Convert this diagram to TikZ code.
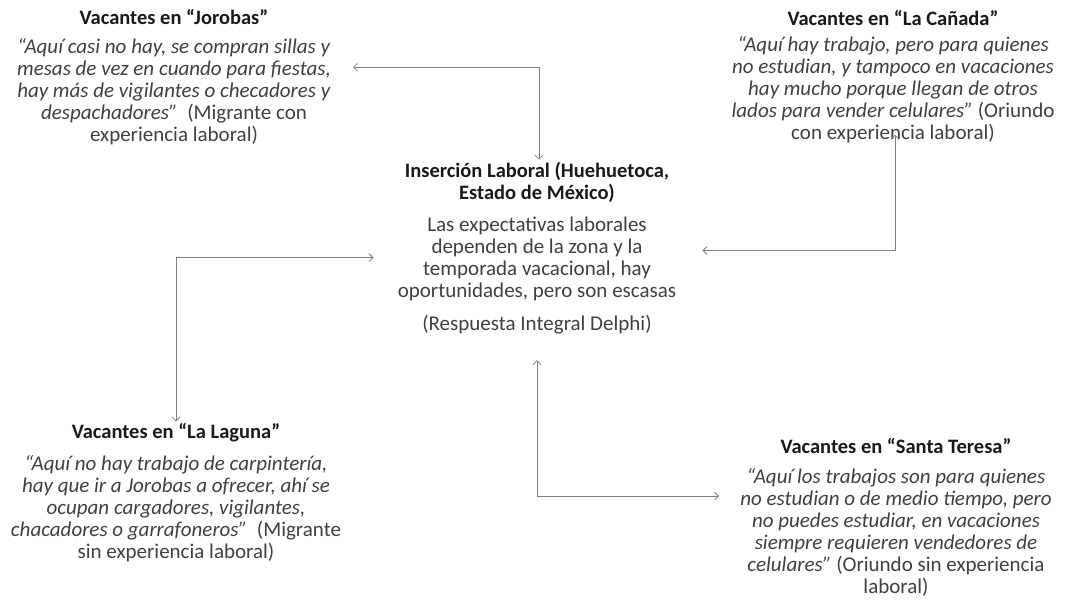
\documentclass[tikz,border=0pt]{standalone}
\usepackage{fontspec}
\setmainfont{Carlito}
\usepackage{tikz}
\usetikzlibrary{arrows.meta, positioning}

\newcommand{\qt}[1]{\textit{#1}}

\begin{document}
\begin{tikzpicture}[x=1pt, y=1pt,
    % text styles
    ttl/.style={font=\fontsize{20.5}{22}\selectfont\bfseries, text=black!90, align=center, inner sep=2pt},
    quote/.style={font=\fontsize{21}{22}\selectfont, text=black!75, align=center, inner sep=2pt},
    % elbow connectors, tips on both ends
    link/.style={{Straight Barb[length=4pt,width=8pt]}-{Straight Barb[length=4pt,width=8pt]}, draw=black!50, line width=0.8pt}]

\useasboundingbox (0,0) rectangle (1069,-605);

% Centre block
\node[ttl] (ins) at (537,-182) {Inserción Laboral (Huehuetoca,\\Estado de México)};
\node[quote, below=10pt of ins] (insb) {Las expectativas laborales\\dependen de la zona y la\\temporada vacacional, hay\\oportunidades, pero son escasas};
\node[quote, below=10pt of insb] (delphi) {(Respuesta Integral Delphi)};

% Zones
\node[ttl] (jor) at (174,-17) {Vacantes en “Jorobas”};
\node[quote, below=9pt of jor] (jorq) {\qt{“Aquí casi no hay, se compran sillas y}\\\qt{mesas de vez en cuando para fiestas,}\\\qt{hay más de vigilantes o checadores y}\\\qt{despachadores”}\ \ (Migrante con\\experiencia laboral)};

\node[ttl] (can) at (893,-18) {Vacantes en “La Cañada”};
\node[quote, below=6pt of can] (canq) {\qt{“Aquí hay trabajo, pero para quienes}\\\qt{no estudian, y tampoco en vacaciones}\\\qt{hay mucho porque llegan de otros}\\\qt{lados para vender celulares”} (Oriundo\\con experiencia laboral)};

\node[ttl] (lag) at (176,-433) {Vacantes en “La Laguna”};
\node[quote, below=9pt of lag] (lagq) {\qt{“Aquí no hay trabajo de carpintería,}\\\qt{hay que ir a Jorobas a ofrecer, ahí se}\\\qt{ocupan cargadores, vigilantes,}\\\qt{chacadores o garrafoneros”}\ \ (Migrante\\sin experiencia laboral)};

\node[ttl] (sta) at (896,-446) {Vacantes en “Santa Teresa”};
\node[quote, below=10pt of sta] (staq) {\qt{“Aquí los trabajos son para quienes}\\\qt{no estudian o de medio tiempo, pero}\\\qt{no puedes estudiar, en vacaciones}\\\qt{siempre requieren vendedores de}\\\qt{celulares”} (Oriundo sin experiencia\\laboral)};

% Connectors
\draw[link] ([xshift=20pt,yshift=24pt]jorq.east) -| ([xshift=2pt]ins.north);
\draw[link] ([xshift=24pt,yshift=8pt]insb.east) -| ([xshift=2pt,yshift=10pt]canq.south);
\draw[link] ([xshift=-22pt,yshift=1pt]insb.west) -| (lag.north);
\draw[link] ([yshift=-24pt]delphi.south) |- ([xshift=-19pt,yshift=36pt]staq.west);

\end{tikzpicture}
\end{document}
